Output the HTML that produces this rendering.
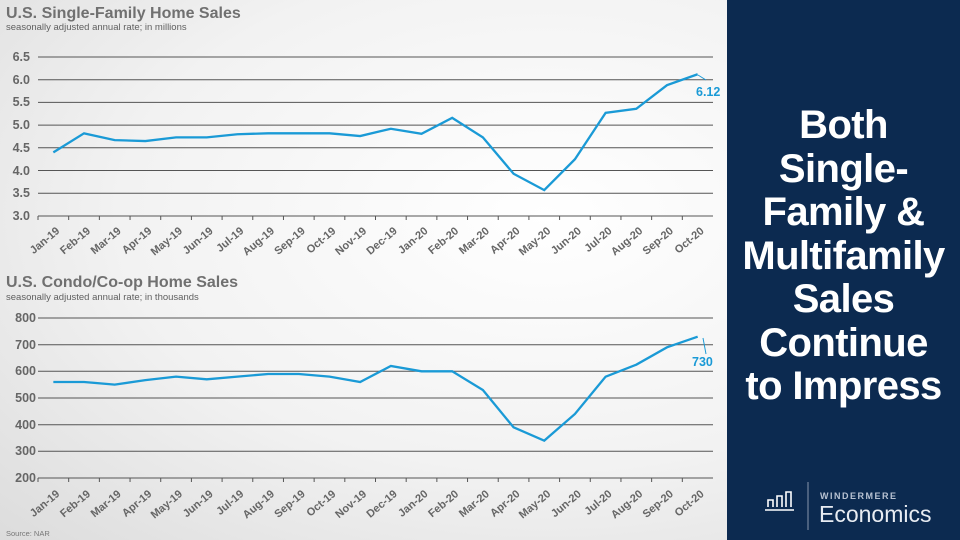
<!DOCTYPE html>
<html><head><style>
body{margin:0;width:960px;height:540px;overflow:hidden;font-family:"Liberation Sans",sans-serif}
.left{position:absolute;left:0;top:0;width:727px;height:540px;background:radial-gradient(ellipse at 75% 40%,#ffffff 0%,#f2f2f2 55%,#dcdcdc 100%)}
.right{position:absolute;left:727px;top:0;width:233px;height:540px;background:#0c2a50}
.head{position:absolute;left:0;top:104px;width:233px;text-align:center;color:#fff;font-weight:bold;font-size:40px;line-height:43.5px;letter-spacing:-0.6px}
</style></head><body>
<div class="left">
<svg width="727" height="540" style="position:absolute;left:0;top:0" font-family="Liberation Sans, sans-serif">
<text x="6" y="18" font-size="16" font-weight="bold" fill="#707070">U.S. Single-Family Home Sales</text>
<text x="6" y="30" font-size="9.5" fill="#606060">seasonally adjusted annual rate; in millions</text>
<g stroke="#555" stroke-width="1">
<line x1="38" x2="713" y1="57" y2="57"/><line x1="38" x2="713" y1="79.7" y2="79.7"/><line x1="38" x2="713" y1="102.4" y2="102.4"/><line x1="38" x2="713" y1="125.1" y2="125.1"/><line x1="38" x2="713" y1="147.8" y2="147.8"/><line x1="38" x2="713" y1="170.5" y2="170.5"/><line x1="38" x2="713" y1="193.2" y2="193.2"/><line x1="38" x2="713" y1="216" y2="216"/>
</g>
<g font-size="12.5" font-weight="bold" fill="#666" text-anchor="end">
<text x="30" y="61">6.5</text><text x="30" y="84">6.0</text><text x="30" y="106">5.5</text><text x="30" y="129">5.0</text><text x="30" y="152">4.5</text><text x="30" y="175">4.0</text><text x="30" y="197">3.5</text><text x="30" y="220">3.0</text>
</g>
<text x="696" y="96" font-size="12.5" font-weight="bold" fill="#1a9ad6">6.12</text>
<line x1="698" y1="75" x2="706" y2="80" stroke="#1a9ad6" stroke-width="1"/>
<polyline fill="none" stroke="#1a9ad6" stroke-width="2.3" id="l1"/>
<text x="6" y="287" font-size="16" font-weight="bold" fill="#707070">U.S. Condo/Co-op Home Sales</text>
<text x="6" y="300" font-size="9.5" fill="#606060">seasonally adjusted annual rate; in thousands</text>
<g stroke="#555" stroke-width="1">
<line x1="38" x2="713" y1="318" y2="318"/><line x1="38" x2="713" y1="344.7" y2="344.7"/><line x1="38" x2="713" y1="371.3" y2="371.3"/><line x1="38" x2="713" y1="398" y2="398"/><line x1="38" x2="713" y1="424.7" y2="424.7"/><line x1="38" x2="713" y1="451.3" y2="451.3"/><line x1="38" x2="713" y1="478" y2="478"/>
</g>
<g font-size="12.5" font-weight="bold" fill="#666" text-anchor="end">
<text x="36" y="322">800</text><text x="36" y="349">700</text><text x="36" y="375">600</text><text x="36" y="402">500</text><text x="36" y="429">400</text><text x="36" y="455">300</text><text x="36" y="482">200</text>
</g>
<text x="692" y="366" font-size="12.5" font-weight="bold" fill="#1a9ad6">730</text>
<line x1="703" y1="338" x2="706" y2="354" stroke="#1a9ad6" stroke-width="1"/>
<polyline fill="none" stroke="#1a9ad6" stroke-width="2.3" id="l2"/>
<g id="labs"></g>
<text x="6" y="536" font-size="7.5" fill="#777">Source: NAR</text>
</svg>
</div>
<div class="right">
<div class="head">Both<br>Single-<br>Family &amp;<br>Multifamily<br>Sales<br>Continue<br>to Impress</div>
<svg width="233" height="70" style="position:absolute;left:0;top:470px">
<g fill="none" stroke="#fff" stroke-width="1.6">
<path d="M41 37v-7h5v7M50 37v-11h5v11M59 37v-15h5v15"/>
</g>
<line x1="38" y1="40" x2="67" y2="40" stroke="#fff" stroke-width="1.6"/>
<line x1="81" y1="12" x2="81" y2="60" stroke="#8796ad" stroke-width="1"/>
<text x="93" y="29" font-family="Liberation Sans" font-size="9" font-weight="bold" letter-spacing="1.5" fill="#b8c2d2">WINDERMERE</text>
<text x="92" y="52" font-family="Liberation Sans" font-size="23" fill="#e8ecf2">Economics</text>
</svg>
</div>
<script>
var m=["Jan","Feb","Mar","Apr","May","Jun","Jul","Aug","Sep","Oct","Nov","Dec"],L=[];
for(var i=0;i<22;i++){L.push(m[i%12]+"-"+(i<12?"19":"20"));}
var sf=[4.40,4.82,4.67,4.65,4.73,4.73,4.80,4.82,4.82,4.82,4.76,4.92,4.81,5.16,4.73,3.93,3.57,4.25,5.27,5.36,5.88,6.12];
var co=[560,560,550,567,580,570,580,590,590,580,560,620,600,600,530,390,340,440,580,625,690,730];
var w=675/22,p1=[],p2=[],s="";
for(var i=0;i<22;i++){var x=38+w*(i+0.5);p1.push(x+","+(216-(sf[i]-3)*45.43));p2.push(x+","+(478-(co[i]-200)*0.2667));
var tx=38+w*i;s+='<line x1="'+tx+'" x2="'+tx+'" y1="216" y2="220" stroke="#555"/><line x1="'+tx+'" x2="'+tx+'" y1="478" y2="482" stroke="#555"/>';
[226,489].forEach(function(y){s+='<text transform="translate('+(x+7)+','+(y+6)+') rotate(-40)" text-anchor="end" font-size="11" font-weight="bold" fill="#666">'+L[i]+'</text>';});}
document.getElementById("l1").setAttribute("points",p1.join(" "));
document.getElementById("l2").setAttribute("points",p2.join(" "));
document.getElementById("labs").innerHTML=s;
</script>
</body></html>
